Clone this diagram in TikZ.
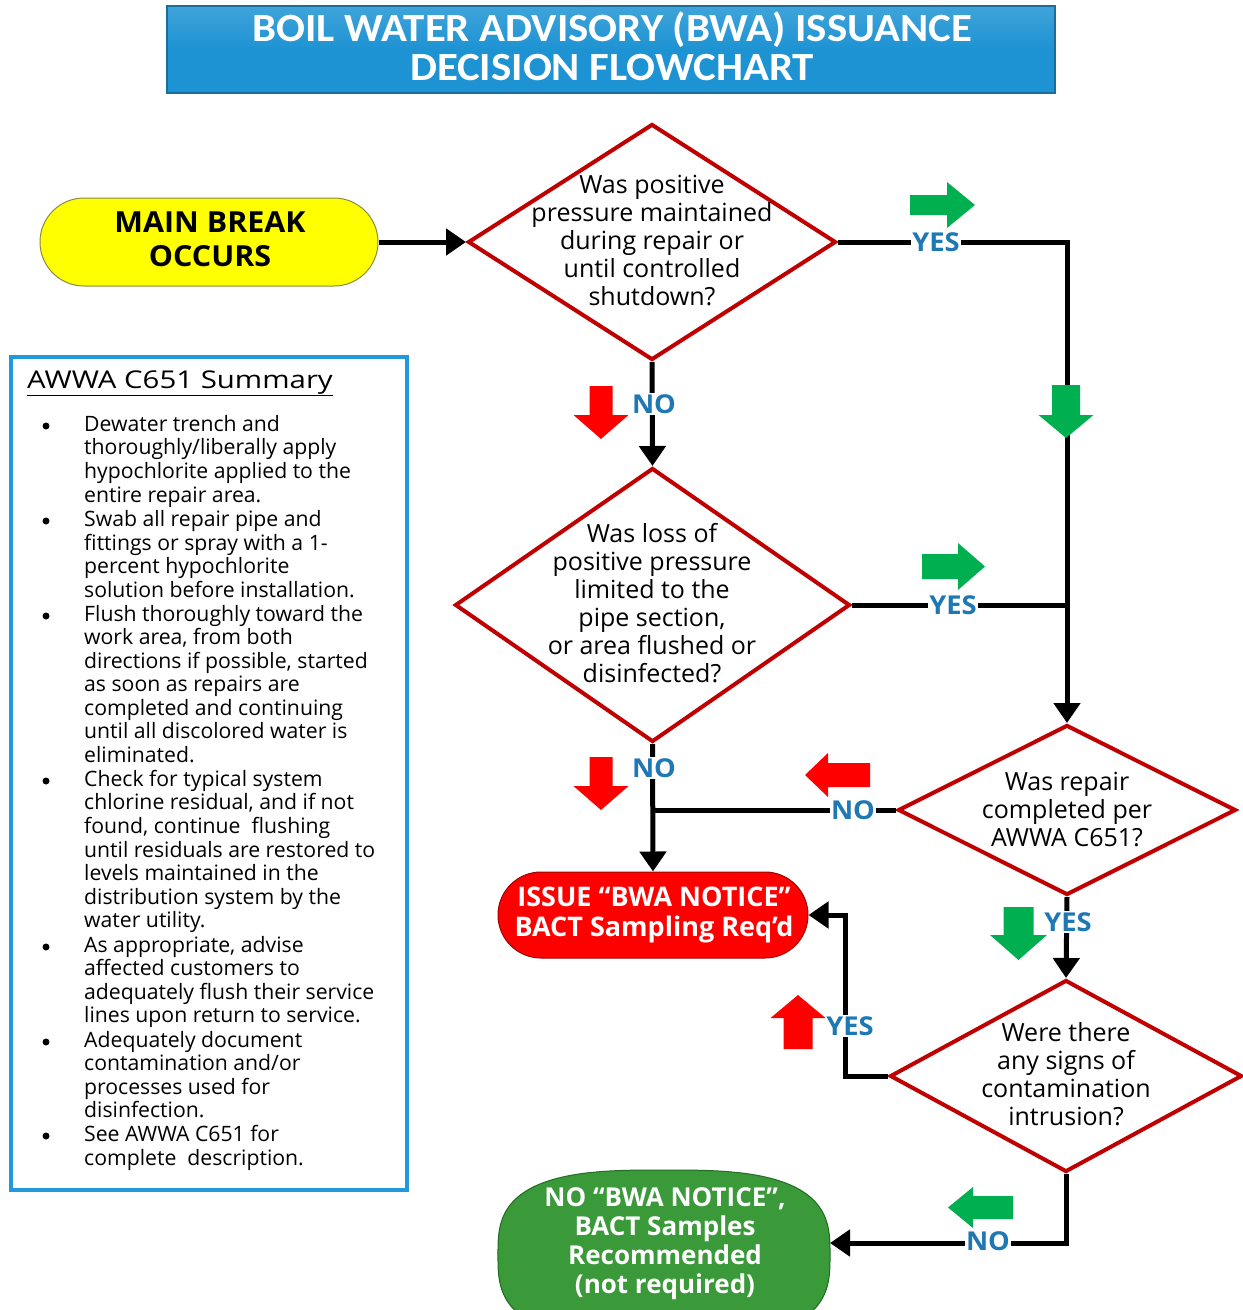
\documentclass[tikz,border=0pt]{standalone}
\usepackage{fontspec}
\setmainfont{Open Sans}
\newfontfamily\titlefont[FakeStretch=1.07]{Carlito}
\newfontfamily\widefont[FakeStretch=1.2]{Open Sans}
\newfontfamily\lblfont[FakeStretch=1.05]{Open Sans}
\newfontfamily\boxfont[FakeStretch=1.05]{Open Sans}
\usetikzlibrary{shapes.geometric,shapes.misc,arrows.meta}
\definecolor{titleblue}{HTML}{1E93D3}
\definecolor{titleedge}{HTML}{1A6E9E}
\definecolor{diared}{HTML}{C00000}
\definecolor{lblblue}{HTML}{1E78B4}
\definecolor{garrow}{HTML}{00B050}
\definecolor{rarrow}{HTML}{FF0000}
\definecolor{boxblue}{HTML}{2299DD}
\definecolor{nogreen}{HTML}{3A9A3A}
\definecolor{nogreenedge}{HTML}{1F6B1F}
\definecolor{mbyellow}{HTML}{FFFF00}
\definecolor{mbedge}{HTML}{8A8A40}
\definecolor{issred}{HTML}{FF0000}
\definecolor{issedge}{HTML}{A00000}
\tikzset{
  dia/.style={diamond, draw=diared, line width=4pt, inner sep=0pt, fill=white},
  dtext/.style={align=center, font=\fontsize{25}{28}\selectfont, inner sep=0pt},
  conn/.style={line width=5pt, line join=miter, black},
  arr/.style={conn, -{Triangle[length=20pt,width=26pt]}},
  lbl/.style={font=\lblfont\bfseries\fontsize{26}{28}\selectfont, text=lblblue, fill=white, inner sep=1pt},
  pics/blkarrow/.style n args={4}{code={\fill[pic actions] ({-#1/2},{-#3}) -- ({#1/2-#4},{-#3}) -- ({#1/2-#4},{-#2}) -- ({#1/2},0) -- ({#1/2-#4},{#2}) -- ({#1/2-#4},{#3}) -- ({-#1/2},{#3}) -- cycle;}},
  sumline/.style={anchor=base west, inner sep=0pt, font=\fontsize{21.2}{24}\selectfont},
}
\begin{document}
\begin{tikzpicture}[x=1pt,y=-1pt]
\useasboundingbox[fill=white] (0,0) rectangle (1243,1310);

% title
\node[draw=titleedge, line width=2pt, top color=titleblue!85!white, bottom color=titleblue, middle color=titleblue, minimum width=888pt, minimum height=87pt, inner sep=0pt] (title) at (611,49.5) {};
\node[align=center, text=white, font=\titlefont\bfseries\fontsize{40}{39}\selectfont, inner sep=0pt] (titletext) at (612,46) {BOIL WATER ADVISORY (BWA) ISSUANCE\\DECISION FLOWCHART};

% start
\node[rounded rectangle, draw=mbedge, line width=1pt, fill=mbyellow, minimum width=338pt, minimum height=88pt, inner sep=0pt] (mb) at (209,242) {};
\node[align=center, font=\boxfont\bfseries\fontsize{29}{34}\selectfont, inner sep=0pt] (mbt) at (210,239.5) {MAIN BREAK\\OCCURS};

% diamonds
\node[dia, minimum width=368pt, minimum height=236pt] (d1) at (652,242) {};
\node[dtext] (d1t) at (652,240) {Was positive\\pressure maintained\\during repair or\\until controlled\\shutdown?};
\node[dia, minimum width=395pt, minimum height=274pt] (d2) at (652.5,605) {};
\node[dtext] (d2t) at (652,603) {Was loss of\\positive pressure\\limited to the\\pipe section,\\or area flushed or\\disinfected?};
\node[dia, minimum width=338pt, minimum height=170pt] (d3) at (1067,810) {};
\node[dtext] (d3t) at (1067,809) {Was repair\\completed per\\AWWA C651?};
\node[dia, minimum width=352pt, minimum height=192pt] (d4) at (1066,1076) {};
\node[dtext] (d4t) at (1066,1074) {Were there\\any signs of\\contamination\\intrusion?};

% outcomes
\node[rounded rectangle, draw=issedge, line width=1pt, fill=issred, minimum width=310pt, minimum height=86pt, inner sep=0pt] (iss) at (653,915) {};
\node[align=center, text=white, font=\bfseries\fontsize{27}{30}\selectfont, inner sep=0pt] (isst) at (654,915) {ISSUE “BWA NOTICE”\\BACT Sampling Req’d};
% green oval (superellipse)
\draw[draw=nogreenedge, line width=1pt, fill=nogreen] plot[domain=1:361, samples=181, smooth cycle]
  ({664+166*sign(cos(\x))*abs(cos(\x))^0.6667}, {1255+85*sign(sin(\x))*abs(sin(\x))^0.6667});
\coordinate (nobe) at (830,1243);
\node[align=center, text=white, font=\bfseries\fontsize{26}{29}\selectfont, inner sep=0pt] (nob) at (665,1244) {NO “BWA NOTICE”,\\BACT Samples\\Recommended\\(not required)};

% connectors
\coordinate (j1) at (d3.north |- d2.east);
\coordinate (j2) at (iss.north |- d3.west);
\coordinate (c4) at (845,1076);
\draw[arr] (mb.east) -- (d1.west);
\draw[arr] (d1.east) -| (d3.north);
\draw[arr] (d1.south) -- (d2.north);
\draw[conn] (d2.east) -- (j1);
\draw[arr] (d2.south) -- (iss.north);
\draw[conn] (d3.west) -- (j2);
\draw[arr] (d3.south) -- (d4.north);
\draw[arr] (d4.west) -- (c4) |- (iss.east);
\draw[arr] (d4.south) |- (nobe);

% labels
\node[lbl] (y1) at (936,242) {YES};
\node[lbl] (n1) at (654,404) {NO};
\node[lbl] (y2) at (953,605) {YES};
\node[lbl] (n2) at (654,768) {NO};
\node[lbl] (n3) at (853,810) {NO};
\node[lbl] (y3) at (1068,922) {YES};
\node[lbl] (y4) at (850,1026) {YES};
\node[lbl] (n4) at (988,1241) {NO};

% block arrows
\pic[fill=garrow] (ga1) at (942.5,205) {blkarrow={65}{23}{10}{28}};
\pic[fill=garrow, rotate=-90] (ga2) at (1066,411.5) {blkarrow={53}{27.5}{14}{23}};
\pic[fill=garrow] (ga3) at (953.5,566.5) {blkarrow={63}{23.5}{12.5}{27}};
\pic[fill=garrow, rotate=-90] (ga4) at (1018.5,933.5) {blkarrow={53}{28.5}{15}{25}};
\pic[fill=garrow, rotate=180] (ga5) at (980.5,1207.5) {blkarrow={65}{20.5}{11.5}{25}};
\pic[fill=rarrow, rotate=-90] (ra1) at (601,412.5) {blkarrow={53}{27.5}{11.5}{24}};
\pic[fill=rarrow, rotate=-90] (ra2) at (601,783.5) {blkarrow={53}{27.5}{11.5}{24}};
\pic[fill=rarrow, rotate=180] (ra3) at (837.5,775) {blkarrow={65}{22}{12}{23}};
\pic[fill=rarrow, rotate=90] (ra4) at (798,1022) {blkarrow={54}{27.5}{14.5}{23}};

% summary box
\node[draw=boxblue, line width=4pt, minimum width=396pt, minimum height=833pt, inner sep=0pt] (sumbox) at (209,773.5) {};
\node[anchor=base west, inner sep=0pt, font=\widefont\fontsize{24.5}{28}\selectfont] (sumtitle) at (27,388) {\underline{AWWA C651 Summary}};
\foreach \y [count=\i] in {424,519,614,779,945,1040,1134}
  \node[circle, fill=black, inner sep=0pt, minimum size=7pt] (b\i) at (46,\y+2) {};
\foreach \y/\t [count=\i] in {
 424/{Dewater trench and},
 447/{thoroughly/liberally apply},
 471/{hypochlorite applied to the},
 495/{entire repair area.},
 519/{Swab all repair pipe and},
 543/{fittings or spray with a 1-},
 566/{percent hypochlorite},
 590/{solution before installation.},
 614/{Flush thoroughly toward the},
 637/{work area, from both},
 661/{directions if possible, started},
 684/{as soon as repairs are},
 708/{completed and continuing},
 731/{until all discolored water is},
 755/{eliminated.},
 779/{Check for typical system},
 802/{chlorine residual, and if not},
 826/{found, continue\ \ flushing},
 850/{until residuals are restored to},
 873/{levels maintained in the},
 897/{distribution system by the},
 920/{water utility.},
 945/{As appropriate, advise},
 968/{affected customers to},
 992/{adequately flush their service},
 1015/{lines upon return to service.},
 1040/{Adequately document},
 1063/{contamination and/or},
 1087/{processes used for},
 1110/{disinfection.},
 1134/{See AWWA C651 for},
 1158/{complete\ \ description.}}
  \node[sumline] (s\i) at (84,\y+7) {\t};
\end{tikzpicture}
\end{document}
